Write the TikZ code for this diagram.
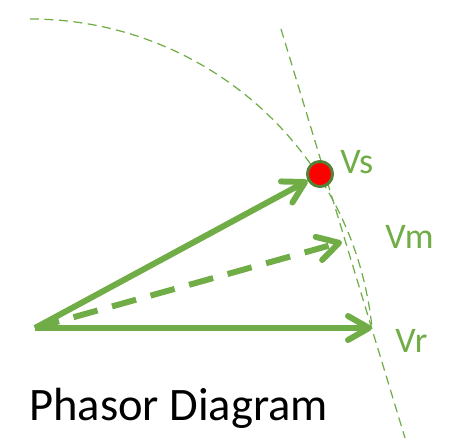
\documentclass[tikz,border=0pt]{standalone}
\usepackage{fontspec}
\setmainfont{Carlito}
\usepackage{xcolor}
\usepackage{tikz}
\usetikzlibrary{arrows.meta}
\definecolor{phgreen}{RGB}{112,173,71}
\definecolor{dotrim}{RGB}{84,130,53}

\begin{document}
\begin{tikzpicture}[
    x=0.02cm, y=0.02cm,
    phasor/.style ={phgreen, line width=3.4pt, -{Straight Barb[length=0.42cm, width=0.48cm, round]}},
    guide/.style  ={phgreen, line width=0.7pt, dash pattern=on 0.18cm off 0.11cm},
    vlabel/.style ={anchor=base west, text=phgreen, inner sep=0pt, font=\fontsize{20.5}{24}\selectfont},
    title/.style  ={anchor=base west, inner sep=0pt, font=\fontsize{26.5}{30}\selectfont},
    sdot/.style   ={circle, fill=red, draw=dotrim, line width=1.6pt, minimum size=0.5cm, inner sep=0pt}
]
\useasboundingbox (0,0) rectangle (449,440);
% --- construction lines (drawn first) ---
\coordinate (arctop) at (30,421);
\coordinate (ltop)   at (281,411);
\coordinate (lbot)   at (405,2);
\draw[guide] (arctop) arc[start angle=90, end angle=5.8, radius=343.8];
\draw[guide] (ltop) -- (lbot);

% --- phasors ---
\coordinate (O)  at (35,112);
\coordinate (vr) at (372,112);
\coordinate (vm) at (342,198);
\node[sdot] (vsdot) at (320,266) {};
\draw[phasor] (O) -- (vr);
\draw[phasor, dash pattern=on 0.5cm off 0.3cm] (O) -- (vm);
\draw[phasor] (O) -- (vsdot);
\node[sdot] at (vsdot) {};

% --- labels ---
\node[vlabel] (lvs) at (340,267) {Vs};
\node[vlabel] (lvm) at (385,192) {Vm};
\node[vlabel] (lvr) at (395,88)  {Vr};
\node[title]  (cap) at (29,20)   {Phasor Diagram};
\end{tikzpicture}
\end{document}
